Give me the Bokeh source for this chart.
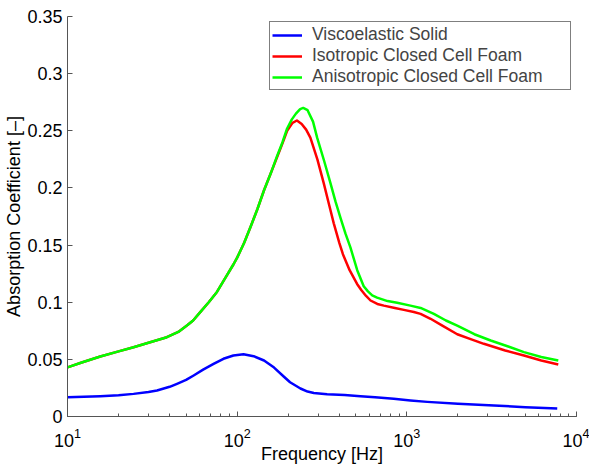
from bokeh.plotting import figure
from bokeh.models import Range1d, FixedTicker, CustomJSTickFormatter, Legend, LegendItem, LogTicker
from bokeh.embed import file_html
from bokeh.resources import INLINE

# Frequency [Hz] and absorption coefficient values
f_solid = [10, 15.6, 20, 24.5, 30, 33.7, 40, 44.2, 50, 55.4, 63, 72.6, 83, 95, 109, 125, 144, 165, 188, 205, 236, 260, 283, 339, 430, 533, 650, 837, 1050, 1320, 2000, 3260, 5000, 7700]
a_solid = [0.0169, 0.0178, 0.0186, 0.0198, 0.0215, 0.0227, 0.026, 0.0286, 0.032, 0.0359, 0.041, 0.046, 0.0505, 0.0534, 0.0545, 0.0528, 0.049, 0.0428, 0.035, 0.030, 0.0245, 0.0218, 0.0205, 0.0195, 0.0188, 0.0178, 0.0168, 0.0155, 0.014, 0.0128, 0.0112, 0.0096, 0.0082, 0.0069]

f_iso = [10, 12, 15.6, 20, 24.5, 30, 38.5, 45, 51, 55, 60.6, 68, 76, 85, 95, 100, 110, 120, 132, 144, 158, 172, 185, 197, 212, 225, 240, 255, 270, 297, 324, 350, 371, 400, 420, 460, 509, 540, 575, 611, 670, 732, 850, 960, 1100, 1205, 1380, 1600, 1982, 2400, 2844, 3800, 4900, 6200, 7810]
a_iso = [0.043, 0.047, 0.0525, 0.057, 0.0606, 0.0645, 0.0694, 0.074, 0.080, 0.084, 0.0913, 0.100, 0.109, 0.121, 0.133, 0.139, 0.152, 0.166, 0.182, 0.198, 0.213, 0.227, 0.239, 0.250, 0.257, 0.259, 0.256, 0.251, 0.244, 0.225, 0.204, 0.184, 0.169, 0.152, 0.142, 0.128, 0.116, 0.1105, 0.1055, 0.1015, 0.0985, 0.097, 0.095, 0.0933, 0.0915, 0.0898, 0.0855, 0.080, 0.072, 0.0675, 0.0636, 0.0578, 0.0534, 0.049, 0.0455]

f_aniso = [10, 12, 15.6, 20, 24.5, 30, 38.5, 45, 51, 55, 60.6, 68, 76, 85, 95, 100, 110, 120, 132, 144, 158, 172, 185, 197, 210, 222, 235, 245, 260, 280, 296, 325, 355, 380, 406, 435, 465, 510, 557, 590, 625, 668, 770, 877, 1050, 1205, 1443, 1700, 1982, 2500, 3120, 4000, 4900, 6200, 7810]
a_aniso = [0.043, 0.047, 0.0525, 0.057, 0.0606, 0.0645, 0.0694, 0.074, 0.080, 0.084, 0.0913, 0.100, 0.109, 0.121, 0.133, 0.139, 0.152, 0.166, 0.182, 0.198, 0.213, 0.228, 0.240, 0.252, 0.260, 0.265, 0.269, 0.270, 0.268, 0.258, 0.244, 0.224, 0.204, 0.188, 0.174, 0.160, 0.148, 0.128, 0.114, 0.1095, 0.106, 0.104, 0.101, 0.0995, 0.097, 0.095, 0.0898, 0.084, 0.0796, 0.072, 0.0665, 0.061, 0.0563, 0.052, 0.049]

y_ticks = [0, 0.05, 0.1, 0.15, 0.2, 0.25, 0.3, 0.35]
names = ["Viscoelastic Solid", "Isotropic Closed Cell Foam", "Anisotropic Closed Cell Foam"]
colors = ["#0000FF", "#FF0000", "#00FF00"]

FONT = "Liberation Sans"

p = figure(width=589, height=468, x_axis_type="log",
           x_range=Range1d(10, 1e4), y_range=Range1d(0, 0.35),
           output_backend="svg", toolbar_location=None,
           min_border_left=67, min_border_right=13, min_border_top=16, min_border_bottom=52)
p.outline_line_color = None
p.grid.grid_line_color = None
p.background_fill_color = "white"
p.border_fill_color = "white"

renderers = []
for fx, ay, c in [(f_solid, a_solid, colors[0]), (f_iso, a_iso, colors[1]), (f_aniso, a_aniso, colors[2])]:
    r = p.line(fx, ay, line_color=c, line_width=2.5, line_join="round")
    renderers.append(r)

axis_color = "#555555"
for ax in (p.xaxis[0], p.yaxis[0]):
    ax.axis_line_color = axis_color
    ax.major_tick_line_color = axis_color
    ax.minor_tick_line_color = axis_color
    ax.major_tick_in = 5
    ax.major_tick_out = 0
    ax.minor_tick_in = 3
    ax.minor_tick_out = 0
    ax.major_label_text_font = FONT
    ax.major_label_text_font_size = "18px"
    ax.major_label_text_color = "black"
    ax.axis_label_text_font = FONT
    ax.axis_label_text_font_size = "18px"
    ax.axis_label_text_font_style = "normal"
    ax.axis_label_text_color = "black"

p.xaxis[0].ticker = LogTicker(num_minor_ticks=10)
p.xaxis[0].axis_label = "Frequency [Hz]"
p.xaxis[0].major_label_standoff = 11
p.xaxis[0].axis_label_standoff = -6

p.yaxis[0].ticker = FixedTicker(ticks=y_ticks, minor_ticks=[])
p.yaxis[0].formatter = CustomJSTickFormatter(code="return String(parseFloat(tick.toFixed(2)));")
p.yaxis[0].axis_label = "Absorption Coefficient [\u2013]"
p.yaxis[0].major_label_standoff = 5
p.yaxis[0].axis_label_standoff = 0

legend = Legend(items=[LegendItem(label=n, renderers=[r]) for n, r in zip(names, renderers)],
                location="top_right", margin=5, padding=2, spacing=0,
                glyph_width=30, glyph_height=20, label_height=20, label_width=256,
                label_standoff=10, label_text_font=FONT, label_text_font_size="17.5px",
                border_line_color="black", border_line_width=1,
                background_fill_color="white", background_fill_alpha=1.0)
p.add_layout(legend, "center")

open("out.html", "w").write(file_html(p, INLINE))
